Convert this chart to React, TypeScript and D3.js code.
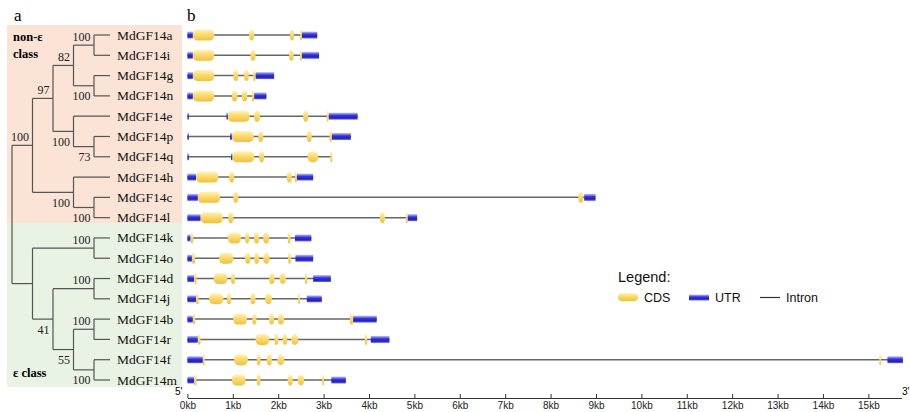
import React, { useEffect, useRef } from 'react';
import * as d3 from 'd3';

// phylogeny (newick, bootstrap values on internal nodes)
const newick =
  '(((((MdGF14a,MdGF14i)100,(MdGF14g,MdGF14n)100)82,(MdGF14e,(MdGF14p,MdGF14q)73)100)97,' +
  '(MdGF14h,(MdGF14c,MdGF14l)100)100)100,((MdGF14k,MdGF14o)100,((MdGF14d,MdGF14j)100,' +
  '((MdGF14b,MdGF14r)100,(MdGF14f,MdGF14m)100)55)41));';

// gene structures in kb, same order as the tree leaves
const utrSegs: number[][][] = [
  [[0, 0.12], [2.52, 2.86]], // a
  [[0, 0.12], [2.52, 2.9]], // i
  [[0, 0.12], [1.5, 1.91]], // g
  [[0, 0.12], [1.47, 1.74]], // n
  [[0, 0.03], [0.86, 0.89], [3.11, 3.75]], // e
  [[0, 0.03], [0.94, 0.98], [3.18, 3.6]], // p
  [[0, 0.03], [0.96, 0.99]], // q
  [[0, 0.19], [2.41, 2.77]], // h
  [[0, 0.23], [8.74, 8.99]], // c
  [[0, 0.29], [4.85, 5.06]], // l
  [[0, 0.07], [2.37, 2.73]], // k
  [[0, 0.1], [2.38, 2.77]], // o
  [[0, 0.15], [2.77, 3.16]], // d
  [[0, 0.19], [2.63, 2.96]], // j
  [[0, 0.12], [3.65, 4.17]], // b
  [[0, 0.23], [4.04, 4.45]], // r
  [[0, 0.34], [15.42, 15.76]], // f
  [[0, 0.15], [3.17, 3.49]], // m
];

const cdsSegs: number[][][] = [
  [[0.12, 0.59], [1.36, 1.47], [2.26, 2.35], [2.48, 2.52]],
  [[0.12, 0.59], [1.39, 1.5], [2.24, 2.34], [2.48, 2.52]],
  [[0.12, 0.59], [1.01, 1.12], [1.25, 1.35], [1.45, 1.5]],
  [[0.12, 0.59], [0.98, 1.1], [1.2, 1.32], [1.42, 1.47]],
  [[0.89, 1.37], [1.47, 1.6], [2.55, 2.66], [3.07, 3.11]],
  [[0.98, 1.46], [1.56, 1.67], [2.63, 2.74], [3.13, 3.18]],
  [[0.99, 1.47], [1.58, 1.69], [2.65, 2.88], [3.15, 3.19]],
  [[0.19, 0.68], [0.92, 1.03], [2.19, 2.3], [2.37, 2.41]],
  [[0.23, 0.72], [1.01, 1.12], [8.61, 8.72]],
  [[0.29, 0.78], [0.9, 1.01], [4.24, 4.35], [4.81, 4.85]],
  [[0.07, 0.13], [0.89, 1.18], [1.27, 1.36], [1.47, 1.58], [1.67, 1.8], [2.21, 2.27]],
  [[0.1, 0.17], [0.7, 1.01], [1.27, 1.39], [1.47, 1.58], [1.67, 1.81], [2.22, 2.28]],
  [[0.15, 0.2], [0.58, 0.88], [0.96, 1.05], [1.8, 1.92], [2.03, 2.17], [2.59, 2.64]],
  [[0.19, 0.25], [0.48, 0.79], [0.87, 0.96], [1.39, 1.5], [1.71, 1.86], [2.44, 2.48]],
  [[0.12, 0.17], [1.01, 1.31], [1.43, 1.52], [1.8, 1.91], [1.99, 2.13], [3.58, 3.65]],
  [[0.23, 0.29], [1.5, 1.8], [1.92, 2.0], [2.1, 2.2], [2.29, 2.44], [3.91, 3.96]],
  [[0.34, 0.37], [1.03, 1.33], [1.53, 1.61], [1.75, 1.86], [1.98, 2.13], [15.24, 15.27]],
  [[0.15, 0.2], [0.98, 1.28], [1.53, 1.61], [2.21, 2.32], [2.43, 2.57], [2.97, 3.01]],
];

const kbTicks = d3.range(0, 16);
const legendItems = ['CDS', 'UTR', 'Intron'];

type TNode = { name: string; support: string; children: TNode[] };

function parseNewick(s: string): TNode {
  let i = 0;
  const read = (): TNode => {
    const n: TNode = { name: '', support: '', children: [] };
    if (s[i] === '(') {
      i++;
      n.children.push(read());
      while (s[i] === ',') {
        i++;
        n.children.push(read());
      }
      i++;
    }
    let tok = '';
    while (i < s.length && !',();'.includes(s[i])) tok += s[i++];
    if (n.children.length) n.support = tok;
    else n.name = tok;
    return n;
  };
  return read();
}

const App = () => {
  const svgRef = useRef<SVGSVGElement>(null);

  useEffect(() => {
    const svg = d3.select(svgRef.current);
    svg.selectAll('*').remove();

    const defs = svg.append('defs');
    const cdsGrad = defs.append('linearGradient').attr('id', 'cdsG').attr('x1', 0).attr('x2', 0).attr('y1', 0).attr('y2', 1);
    [['0%', '#fff3b8'], ['45%', '#fbdb6e'], ['100%', '#f1c03c']].forEach(([o, c]) =>
      cdsGrad.append('stop').attr('offset', o).attr('stop-color', c));
    const utrGrad = defs.append('linearGradient').attr('id', 'utrG').attr('x1', 0).attr('x2', 0).attr('y1', 0).attr('y2', 1);
    [['0%', '#c4c7f6'], ['40%', '#3636dc'], ['75%', '#1e1ec4'], ['100%', '#7474e2']].forEach(([o, c]) =>
      utrGrad.append('stop').attr('offset', o).attr('stop-color', c));

    // class backgrounds
    svg.append('rect').attr('x', 7).attr('y', 25).attr('width', 175).attr('height', 198).attr('fill', '#fbe4d6');
    svg.append('rect').attr('x', 7).attr('y', 223).attr('width', 175).attr('height', 164).attr('fill', '#e9f3e3');

    svg.append('text').attr('x', 14).attr('y', 21).attr('font-family', 'Liberation Serif, serif').attr('font-size', 17).text('a');
    svg.append('text').attr('x', 187).attr('y', 21).attr('font-family', 'Liberation Serif, serif').attr('font-size', 17).text('b');

    const cls = svg.append('g').attr('font-family', 'Liberation Serif, serif').attr('font-weight', 'bold').attr('font-size', 12.5);
    cls.append('text').attr('x', 13).attr('y', 41).text('non-ε');
    cls.append('text').attr('x', 13).attr('y', 58).text('class');
    cls.append('text').attr('x', 13).attr('y', 377).text('ε class');

    // tree
    const root = d3.hierarchy(parseNewick(newick), (d) => (d.children.length ? d.children : null));
    const leaves = root.leaves();
    const yRow = d3.scaleLinear().domain([0, leaves.length - 1]).range([35, 380]);
    const xH = d3.scaleLinear().domain([1, root.height]).range([94, 12]);
    const leafX = 110;
    const pos = new Map<any, { x: number; y: number }>();
    leaves.forEach((l, i) => pos.set(l, { x: leafX, y: yRow(i) }));
    root.eachAfter((n) => {
      if (!n.children) return;
      const ys = n.children.map((c) => pos.get(c)!.y);
      pos.set(n, { x: xH(n.height), y: (ys[0] + ys[ys.length - 1]) / 2 });
    });

    const tree = svg.append('g').attr('stroke', '#555').attr('stroke-width', 1.2).attr('fill', 'none');
    root.each((n) => {
      const p = pos.get(n)!;
      if (n.children) {
        const ys = n.children.map((c) => pos.get(c)!.y);
        tree.append('line').attr('x1', p.x).attr('x2', p.x).attr('y1', ys[0]).attr('y2', ys[ys.length - 1]);
      }
      if (n.parent) {
        const pp = pos.get(n.parent)!;
        tree.append('line').attr('x1', pp.x).attr('x2', p.x).attr('y1', p.y).attr('y2', p.y);
      }
    });

    const sup = svg.append('g').attr('font-family', 'Liberation Serif, serif').attr('font-size', 12).attr('fill', '#222').attr('text-anchor', 'end');
    root.each((n) => {
      if (!n.children || !n.parent || !n.data.support) return;
      const p = pos.get(n)!;
      const first = n.parent.children![0] === n;
      sup.append('text').attr('x', p.x - 3.5).attr('y', first ? p.y - 4.5 : p.y + 14.5).text(n.data.support);
    });

    svg.append('g').attr('font-family', 'Liberation Serif, serif').attr('font-size', 13.5).attr('fill', '#111')
      .selectAll('text').data(leaves).enter().append('text')
      .attr('x', 117).attr('y', (d, i) => yRow(i) + 4.5).text((d) => d.data.name);

    // gene structures
    const x = d3.scaleLinear().domain([0, 15.73]).range([187.4, 901.5]);
    const genes = svg.append('g');
    leaves.forEach((l, i) => {
      const y = yRow(i);
      const all = [...utrSegs[i], ...cdsSegs[i]];
      const lo = d3.min(all, (s) => s[0])!;
      const hi = d3.max(all, (s) => s[1])!;
      genes.append('line').attr('x1', x(lo)).attr('x2', x(hi)).attr('y1', y).attr('y2', y)
        .attr('stroke', '#666').attr('stroke-width', 1.5);
      utrSegs[i].forEach(([s, e]) => {
        genes.append('rect').attr('x', x(s)).attr('y', y - 3.5)
          .attr('width', Math.max(1.5, x(e) - x(s))).attr('height', 7).attr('fill', 'url(#utrG)');
      });
      cdsSegs[i].forEach(([s, e]) => {
        const w = Math.max(1.8, x(e) - x(s));
        genes.append('rect').attr('x', x(s)).attr('y', y - 5.5).attr('width', w).attr('height', 11)
          .attr('rx', Math.min(4, w / 2)).attr('ry', Math.min(5, w)).attr('fill', 'url(#cdsG)');
      });
    });

    // axis
    const axis = svg.append('g').attr('transform', 'translate(0,398)')
      .call(d3.axisBottom(x).tickValues(kbTicks).tickSizeInner(-4).tickSizeOuter(0).tickPadding(4)
        .tickFormat((d) => `${d}kb`));
    axis.selectAll('text').attr('font-family', 'Liberation Sans, Arial, sans-serif').attr('font-size', 10).attr('fill', '#222');
    axis.selectAll('line,path').attr('stroke', '#333');
    svg.append('text').attr('x', 175).attr('y', 395).attr('font-family', 'Liberation Sans, sans-serif').attr('font-size', 10).text("5'");
    svg.append('text').attr('x', 902).attr('y', 395).attr('font-family', 'Liberation Sans, sans-serif').attr('font-size', 10).text("3'");

    // legend
    const lg = svg.append('g').attr('font-family', 'Liberation Sans, Arial, sans-serif').attr('fill', '#111');
    lg.append('text').attr('x', 618).attr('y', 282).attr('font-size', 14.5).text('Legend:');
    const lx = [618, 689, 760];
    legendItems.forEach((name, i) => {
      if (name === 'CDS') lg.append('rect').attr('x', lx[i]).attr('y', 293).attr('width', 20).attr('height', 8).attr('rx', 4).attr('fill', 'url(#cdsG)');
      if (name === 'UTR') lg.append('rect').attr('x', lx[i]).attr('y', 294.5).attr('width', 20).attr('height', 6).attr('fill', 'url(#utrG)');
      if (name === 'Intron') lg.append('line').attr('x1', lx[i]).attr('x2', lx[i] + 20).attr('y1', 297.5).attr('y2', 297.5).attr('stroke', '#333').attr('stroke-width', 1.2);
      lg.append('text').attr('x', lx[i] + 26).attr('y', 301.5).attr('font-size', 12.5).text(name);
    });
  }, []);

  return (
    <svg ref={svgRef} width={910} height={412}
      style={{ position: 'absolute', left: 0, top: 0, background: '#fff' }} />
  );
};

export default App;
